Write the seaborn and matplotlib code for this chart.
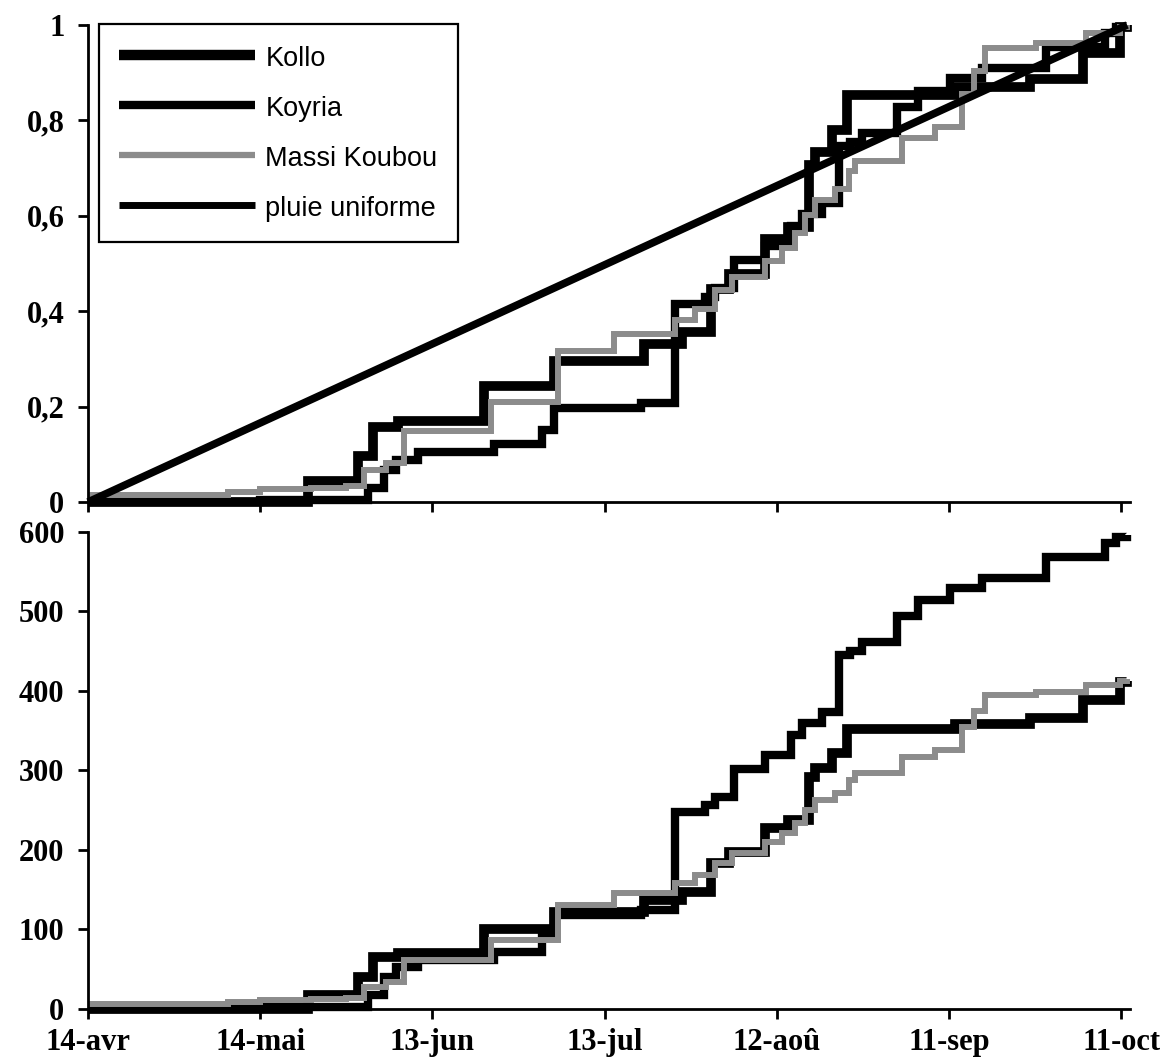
import matplotlib
matplotlib.use("Agg")
import matplotlib.pyplot as plt
from matplotlib.lines import Line2D
import pandas as pd
import seaborn as sns

# Cumulative rainfall (mm), change points in days after 14 April
kollo_day = [0, 38.3, 47.0, 49.6, 54.0, 69.0, 81.2, 96.8, 103.4, 108.5, 111.6,
             117.9, 122.0, 125.6, 126.6, 129.6, 132.2, 151.0, 164.0, 173.3, 179.7, 181]
kollo_mm = [0, 18, 40, 65, 70, 100, 122, 137, 147, 184, 197,
            228, 238, 292, 303, 322, 352, 359, 366, 389, 411, 413]

koyria_day = [0, 30, 48.7, 51.5, 53.6, 57.5, 70.7, 79, 81.2, 96.4, 102.2, 107.4,
              109.2, 112.5, 117.9, 122.4, 124.4, 127.9, 130.8, 132.8, 134.8, 141,
              144.6, 150.2, 155.8, 166.8, 177.1, 179, 181]
koyria_mm = [0, 3, 17, 40, 53, 62, 72, 90, 118, 124, 248, 256,
             267, 302, 320, 345, 360, 373, 445, 450, 461, 494,
             514, 530, 542, 569, 586, 594, 596]

massi_day = [0, 24.3, 30, 38.8, 44.9, 48, 51.9, 55, 70.2, 81.9, 91.7, 102.2,
             105.7, 109.2, 112.1, 117.9, 120.9, 123.1, 124.9, 126.6, 130.1, 132.6,
             133.6, 141.8, 147.6, 152.3, 154.4, 156.3, 165.1, 173.8, 179.7, 181]
massi_mm = [6, 9, 11, 12, 14, 28, 34, 62, 87, 131, 146, 158,
            168, 184, 196, 210, 221, 234, 250, 263, 272, 288,
            297, 317, 326, 355, 375, 395, 399, 408, 413, 415]

uniform_day = [0, 181]
uniform_frac = [0, 1]

stations = ["Kollo", "Koyria", "Massi Koubou"]
tick_days = [0, 30, 60, 90, 120, 150, 180]
tick_labels = ["14-avr", "14-mai", "13-jun", "13-jul", "12-aoû", "11-sep", "11-oct"]
frac_ticks = [0, 0.2, 0.4, 0.6, 0.8, 1]
frac_labels = ["0", "0,2", "0,4", "0,6", "0,8", "1"]
mm_ticks = [0, 100, 200, 300, 400, 500, 600]

GREY = "#8c8c8c"


def build_frame():
    rows = []
    for name, days, mm in zip(stations, [kollo_day, koyria_day, massi_day],
                              [kollo_mm, koyria_mm, massi_mm]):
        total = mm[-1]
        for d, v in zip(days, mm):
            rows.append({"station": name, "day": d, "mm": v, "frac": v / total})
    return pd.DataFrame(rows)


def style_axis(ax, yticks, ylabels, show_x):
    sns.despine(ax=ax)
    for side in ["left", "bottom"]:
        ax.spines[side].set_linewidth(2)
        ax.spines[side].set_color("black")
    ax.set_xlim(0, 181.5)
    ax.set_xticks(tick_days)
    ax.set_xticklabels(tick_labels if show_x else [])
    ax.set_yticks(yticks)
    ax.set_yticklabels(ylabels)
    ax.set_xlabel("")
    ax.set_ylabel("")
    ax.tick_params(axis="both", direction="out", length=7, width=2,
                   colors="black", labelsize=22)
    ax.tick_params(axis="x", pad=7)
    ax.tick_params(axis="y", pad=10)
    for lab in ax.get_xticklabels() + ax.get_yticklabels():
        lab.set_fontfamily("Liberation Serif")
        lab.set_fontweight("bold")


def main():
    df = build_frame()
    sns.set_theme(style="ticks")
    plt.rcParams["font.family"] = ["Liberation Sans", "DejaVu Sans"]
    plt.rcParams["text.color"] = "black"
    plt.rcParams["lines.solid_capstyle"] = "butt"
    plt.rcParams["lines.solid_joinstyle"] = "miter"

    palette = {"Kollo": "black", "Koyria": "black", "Massi Koubou": GREY}
    sizes = {"Kollo": 7.0, "Koyria": 6.0, "Massi Koubou": 4.3}

    fig = plt.figure(figsize=(11.61, 10.62), dpi=100)
    ax_top = fig.add_axes([0.0758, 0.5273, 0.8975, 0.4492])
    ax_bot = fig.add_axes([0.0758, 0.0499, 0.8975, 0.4492])

    # top: fraction of seasonal total
    sns.lineplot(data=df, x="day", y="frac", hue="station", size="station",
                 hue_order=stations, size_order=stations,
                 palette=palette, sizes=sizes, drawstyle="steps-post",
                 estimator=None, legend=False, ax=ax_top, clip_on=False)
    sns.lineplot(x=uniform_day, y=uniform_frac, color="black", linewidth=5.5,
                 ax=ax_top, clip_on=False)
    ax_top.set_ylim(0, 1)
    style_axis(ax_top, frac_ticks, frac_labels, show_x=False)

    # bottom: cumulative rainfall in mm
    sns.lineplot(data=df, x="day", y="mm", hue="station", size="station",
                 hue_order=stations, size_order=stations,
                 palette=palette, sizes=sizes, drawstyle="steps-post",
                 estimator=None, legend=False, ax=ax_bot, clip_on=False)
    ax_bot.set_ylim(0, 600)
    style_axis(ax_bot, mm_ticks, [str(t) for t in mm_ticks], show_x=True)

    handles = [Line2D([], [], color="black", lw=7.5, solid_capstyle="butt"),
               Line2D([], [], color="black", lw=6, solid_capstyle="butt"),
               Line2D([], [], color=GREY, lw=4.5, solid_capstyle="butt"),
               Line2D([], [], color="black", lw=5, solid_capstyle="butt")]
    labels = ["Kollo", "Koyria", "Massi Koubou", "pluie uniforme"]
    leg = ax_top.legend(handles, labels, loc="upper left",
                        bbox_to_anchor=(0.0852, 0.9774), bbox_transform=fig.transFigure,
                        prop={"family": "Liberation Sans", "size": 19.5},
                        handlelength=5.0, handleheight=1.0, labelspacing=0.84,
                        handletextpad=0.4, borderpad=0.75, borderaxespad=0,
                        frameon=True, fancybox=False, framealpha=1,
                        edgecolor="black", facecolor="white")
    leg.get_frame().set_linewidth(1.6)

    fig.savefig("out.png", dpi=100, facecolor="white")
    plt.close(fig)


if __name__ == "__main__":
    main()
